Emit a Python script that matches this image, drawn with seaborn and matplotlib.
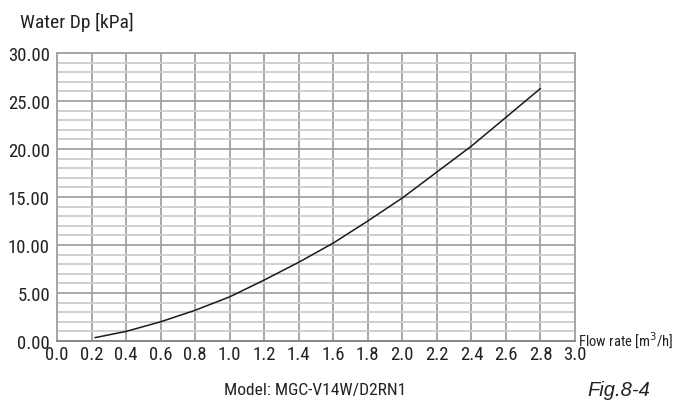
import numpy as np
import pandas as pd
import seaborn as sns
import matplotlib.pyplot as plt
from matplotlib.ticker import MultipleLocator, FormatStrFormatter

# values
flow = [0.22, 0.4, 0.6, 0.8, 1.0, 1.2, 1.4, 1.6, 1.8, 2.0, 2.2, 2.4, 2.6, 2.8]
dp = [0.35, 1.0, 2.0, 3.2, 4.6, 6.35, 8.2, 10.2, 12.5, 14.9, 17.6, 20.3, 23.3, 26.3]
x_ticks = [round(0.2 * i, 1) for i in range(16)]
y_ticks = [0, 5, 10, 15, 20, 25, 30]

df = pd.DataFrame({"flow": flow, "dp": dp})

sns.set_style("white")
narrow = ['Liberation Sans Narrow', 'Roboto Condensed', 'DejaVu Sans Condensed',
          'Liberation Sans', 'DejaVu Sans']
plt.rcParams['font.family'] = narrow

fig = plt.figure(figsize=(6.87, 4.06), dpi=100)
ax = fig.add_axes([57 / 687, 64 / 406, 518 / 687, 288 / 406])

ax.set_xlim(0, 3.0)
ax.set_ylim(0, 30)
ax.set_xticks(x_ticks)
ax.set_yticks(y_ticks)
ax.yaxis.set_minor_locator(MultipleLocator(1))
ax.xaxis.set_major_formatter(FormatStrFormatter('%.1f'))
ax.yaxis.set_major_formatter(FormatStrFormatter('%.2f'))

ax.grid(which='major', axis='both', color='#9ea2a6', lw=1.3)
ax.grid(which='minor', axis='y', color='#c9cdd0', lw=1.3)
ax.set_axisbelow(True)

sns.lineplot(data=df, x="flow", y="dp", color='#1a1a1a', lw=1.1, ax=ax)

for s in ax.spines.values():
    s.set_color('#9ea2a6')
    s.set_linewidth(1.3)
ax.spines['bottom'].set_color('#808488')

ax.tick_params(axis='y', which='major', length=4, width=1, color='#808488',
               labelsize=13.5, pad=1, labelcolor='#222222')
ax.tick_params(axis='y', which='minor', length=0)
ax.tick_params(axis='x', which='major', length=3, width=1, color='#808488',
               labelsize=13.5, pad=0, labelcolor='#222222')
ax.set_xlabel("")
ax.set_ylabel("")

fig.text(20 / 687, 1 - 22 / 406, "Water Dp [kPa]", fontsize=14, va='center',
         ha='left', color='#222222')
fig.text(578 / 687, 1 - 340 / 406, "Flow rate [m$^3$/h]", fontsize=10.5,
         va='center', ha='left', color='#222222')
fig.text(315 / 687, 1 - 391 / 406, "Model: MGC-V14W/D2RN1", fontsize=12.5,
         va='center', ha='center', color='#222222')
fig.text(587 / 687, 1 - 391 / 406, "Fig.8-4", fontsize=14.5, style='italic',
         va='center', ha='left', color='#222222',
         family=['Liberation Sans', 'DejaVu Sans'])

fig.savefig("out.png", dpi=100)
